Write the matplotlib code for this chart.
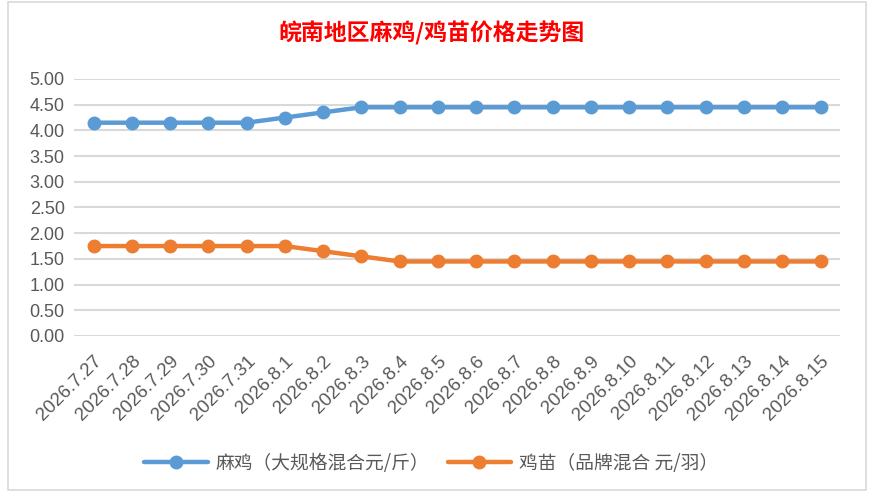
import matplotlib
matplotlib.use("Agg")
import matplotlib.pyplot as plt
from matplotlib.patches import Rectangle

plt.rcParams['font.family'] = ['Noto Sans CJK SC', 'DejaVu Sans']

# data
dates = ['2026.7.27', '2026.7.28', '2026.7.29', '2026.7.30', '2026.7.31',
         '2026.8.1', '2026.8.2', '2026.8.3', '2026.8.4', '2026.8.5',
         '2026.8.6', '2026.8.7', '2026.8.8', '2026.8.9', '2026.8.10',
         '2026.8.11', '2026.8.12', '2026.8.13', '2026.8.14', '2026.8.15']
ma_ji = [4.15, 4.15, 4.15, 4.15, 4.15, 4.25, 4.35, 4.45, 4.45, 4.45,
         4.45, 4.45, 4.45, 4.45, 4.45, 4.45, 4.45, 4.45, 4.45, 4.45]
ji_miao = [1.75, 1.75, 1.75, 1.75, 1.75, 1.75, 1.65, 1.55, 1.45, 1.45,
           1.45, 1.45, 1.45, 1.45, 1.45, 1.45, 1.45, 1.45, 1.45, 1.45]
yticks = [0, 0.5, 1.0, 1.5, 2.0, 2.5, 3.0, 3.5, 4.0, 4.5, 5.0]
label_ma = '麻鸡（大规格混合元/斤）'
label_miao = '鸡苗（品牌混合 元/羽）'
title = '皖南地区麻鸡/鸡苗价格走势图'

fig = plt.figure(figsize=(8.74, 5.0), dpi=100)
fig.patch.set_facecolor('white')

# chart area frame (spreadsheet look)
fig.add_artist(Rectangle((8 / 874, 10 / 500), 858 / 874, 488 / 500,
                         transform=fig.transFigure, fill=False,
                         edgecolor='#D9D9D9', linewidth=1.2))

ax = fig.add_axes([0.0852, 0.328, 0.8755, 0.514])
x = list(range(len(dates)))
ax.plot(x, ma_ji, color='#5B9BD5', linewidth=3.2, marker='o',
        markersize=9, label=label_ma, solid_capstyle='round')
ax.plot(x, ji_miao, color='#ED7D31', linewidth=3.2, marker='o',
        markersize=9, label=label_miao, solid_capstyle='round')

ax.set_xlim(-0.5, len(dates) - 0.5)
ax.set_ylim(0, 5.0)
ax.set_yticks(yticks)
ax.set_yticklabels(['%.2f' % v for v in yticks],
                   family=['Liberation Sans', 'DejaVu Sans'], fontsize=13,
                   color='#595959')
ax.set_xticks(x)
ax.set_xticklabels(dates, rotation=45, ha='right', va='top',
                   rotation_mode='anchor',
                   family=['Liberation Sans', 'DejaVu Sans'], fontsize=13.5,
                   color='#595959')
ax.tick_params(length=0, pad=7)
ax.tick_params(axis='x', pad=12)
ax.grid(axis='y', color='#D9D9D9', linewidth=1.5)
ax.set_axisbelow(True)
for s in ax.spines.values():
    s.set_visible(False)

fig.text(0.494, 0.934, title, color='red', fontsize=16.5, fontweight='bold',
         ha='center', va='center')

leg = fig.legend(loc='center', bbox_to_anchor=(0.493, 0.074), ncol=2,
                 frameon=False, fontsize=13.5, handlelength=3.4,
                 columnspacing=1.0, handletextpad=0.4)
for t in leg.get_texts():
    t.set_color('#595959')

fig.savefig('out.png', dpi=100, facecolor='white')
